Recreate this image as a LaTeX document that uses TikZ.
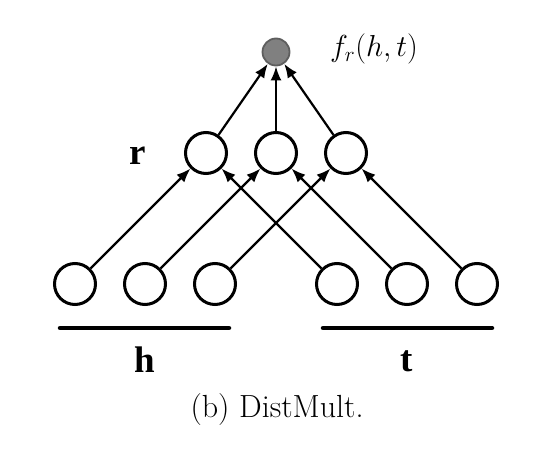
\documentclass[tikz,border=0pt]{standalone}
\usepackage{fontspec}
\newfontfamily\lblfont{Liberation Serif}
\usetikzlibrary{arrows.meta}
\definecolor{scorefill}{HTML}{808080}
\definecolor{scoreline}{HTML}{5E5E5E}
\tikzset{
  unit/.style={circle,draw,line width=3pt,minimum size=41pt,inner sep=0pt},
  score/.style={circle,draw=scoreline,fill=scorefill,line width=1.8pt,minimum size=27pt,inner sep=0pt},
  conn/.style={line width=2.2pt,-{Latex[length=14pt,width=11pt]}},
  bar/.style={line width=4.5pt,line cap=round},
  vec/.style={inner sep=0pt,font=\lblfont\fontsize{37}{37}\selectfont\bfseries},
}
\begin{document}
\begin{tikzpicture}[x=1pt,y=-1pt]
      \useasboundingbox (0,0) rectangle (548,454);
      \node[score] (out) at (276,52) {};
      \node[anchor=west,inner sep=0pt] (outlbl) at (330,49) {\scalebox{1.22}{\fontsize{24}{24}\selectfont $f_r(h,t)$}};
      \node[unit] (r1) at (206,153) {};
      \node[unit] (r2) at (276,153) {};
      \node[unit] (r3) at (346,153) {};
      \node[vec] (rlbl) at (138,156) {r};
      \node[unit] (h1) at (75,284) {};
      \node[unit] (h2) at (145,284) {};
      \node[unit] (h3) at (215,284) {};
      \node[unit] (t1) at (337,284) {};
      \node[unit] (t2) at (407,284) {};
      \node[unit] (t3) at (477,284) {};
      \draw[conn] (h1) -- (r1);
      \draw[conn] (h2) -- (r2);
      \draw[conn] (h3) -- (r3);
      \draw[conn] (t1) -- (r1);
      \draw[conn] (t2) -- (r2);
      \draw[conn] (t3) -- (r3);
      \draw[conn] (r1) -- (out);
      \draw[conn] (r2) -- (out);
      \draw[conn] (r3) -- (out);
      \draw[bar] (60,328) -- (229,328);
      \draw[bar] (323,328) -- (492,328);
      \node[vec] (hlbl) at (145,360) {h};
      \node[vec] (tlbl) at (407,361) {t};
      \node[inner sep=0pt] (caption) at (277,410) {\fontsize{32}{32}\selectfont (b)~DistMult.};
    \end{tikzpicture}
\end{document}
